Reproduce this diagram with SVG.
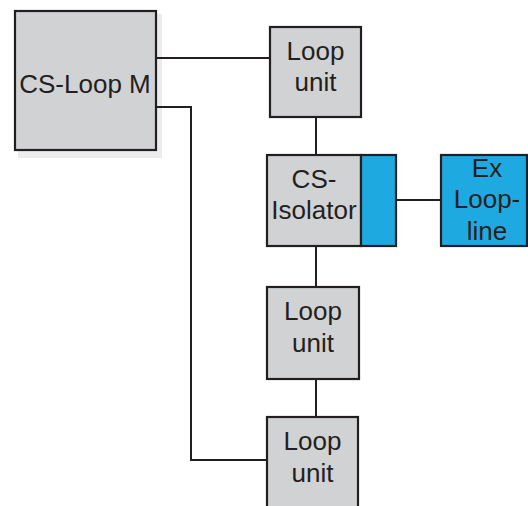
<svg xmlns="http://www.w3.org/2000/svg" width="528" height="506" viewBox="0 0 528 506">
<style>
.box{fill:#d1d2d4;stroke:#231f20;stroke-width:2.2}
.blue{fill:#1ea9e1;stroke:#231f20;stroke-width:2.2}
.t{font-family:"Liberation Sans",Arial,sans-serif;font-size:26px;fill:#231f20;text-anchor:middle}
.c{fill:none;stroke:#231f20;stroke-width:2}
</style>
<rect width="528" height="506" fill="#ffffff"/>
<g id="cs-loop-m">
<rect x="18" y="14" width="144" height="144" fill="#ececec"/>
<rect class="box" x="15" y="11" width="141" height="139"/>
<text class="t" x="85" y="93">CS-Loop M</text>
</g>
<g id="connectors">
<line class="c" x1="156" y1="58" x2="270" y2="58"/>
<polyline class="c" points="156,107 191,107 191,460 267,460"/>
<line class="c" x1="316" y1="117" x2="316" y2="155"/>
<line class="c" x1="396" y1="200" x2="441" y2="200"/>
<line class="c" x1="316" y1="246" x2="316" y2="287"/>
<line class="c" x1="316" y1="379" x2="316" y2="417"/>
</g>
<g id="loop-unit-1">
<rect class="box" x="270" y="27" width="91" height="90"/>
<text class="t" x="315.5" y="60">Loop</text>
<text class="t" x="315.5" y="91">unit</text>
</g>
<g id="cs-isolator">
<rect class="box" x="267" y="155" width="94" height="91"/>
<rect class="blue" x="361" y="155" width="35" height="91"/>
<text class="t" x="314" y="188">CS-</text>
<text class="t" x="314" y="219">Isolator</text>
</g>
<g id="ex-loop-line">
<rect class="blue" x="441" y="155" width="86" height="91"/>
<text class="t" x="487" y="177">Ex</text>
<text class="t" x="487" y="208">Loop-</text>
<text class="t" x="487" y="240">line</text>
</g>
<g id="loop-unit-2">
<rect class="box" x="267" y="287" width="92" height="92"/>
<text class="t" x="313" y="320">Loop</text>
<text class="t" x="313" y="352">unit</text>
</g>
<g id="loop-unit-3">
<rect class="box" x="267" y="417" width="91" height="100"/>
<text class="t" x="312.5" y="450">Loop</text>
<text class="t" x="312.5" y="482">unit</text>
</g>
</svg>
